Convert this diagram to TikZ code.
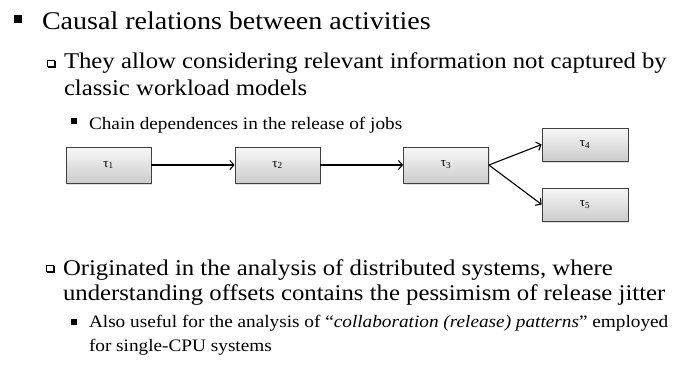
\documentclass[tikz,border=0pt]{standalone}
\usepackage{fontspec}
\setmainfont{Liberation Serif}[FakeStretch=1.1]
\newfontfamily\taskfont{Liberation Serif}
\usetikzlibrary{arrows.meta,shadows}

\tikzset{
  x=1pt, y=-1pt,
  txt/.style={anchor=base west, inner sep=0pt, outer sep=0pt},
  lvlone/.style={txt, font=\fontsize{25.5}{30}\selectfont},
  lvltwo/.style={txt, font=\fontsize{22.5}{26}\selectfont},
  lvlthree/.style={txt, font=\fontsize{17.5}{21}\selectfont},
  bulletfill/.style={fill=black, inner sep=0pt, outer sep=0pt},
  hollowbullet/.style={draw=black, fill=white, line width=0.6pt, inner sep=0pt,
    minimum width=7pt, minimum height=6.5pt},
  task/.style={draw=black!75, line width=0.8pt, minimum width=85pt, minimum height=36pt,
    inner sep=0pt, top color=black!3, bottom color=black!20,
    drop shadow={opacity=0.25, shadow xshift=1pt, shadow yshift=-1.5pt},
    font=\taskfont\fontsize{13}{15}\selectfont},
  link/.style={line width=1.1pt, -{Straight Barb[length=4pt,width=9pt,line width=1.1pt]}},
}

\newcommand{\tsk}[1]{τ\textsubscript{#1}}

\begin{document}
\begin{tikzpicture}
\useasboundingbox (0,0) rectangle (677,367);

% level-one bullet and heading
\node[bulletfill, minimum size=8pt] (b1) at (18,19) {};
\node[lvlone] (t1) at (42,29) {Causal relations between activities};

% hollow level-two bullet (white square over a shifted black one)
\fill[black] (48,61) rectangle (56,68);
\node[hollowbullet] (b2) at (51,63.5) {};
\node[lvltwo] (t2a) at (64,68) {They allow considering relevant information not captured by};
\node[lvltwo] (t2b) at (64,95) {classic workload models};

% level-three bullet
\node[bulletfill, minimum size=6pt] (b3) at (74,121) {};
\node[lvlthree] (t3) at (89,129) {Chain dependences in the release of jobs};

% task chain
\node[task] (k1) at (108.5,165) {\tsk{1}};
\node[task] (k2) at (277.5,165) {\tsk{2}};
\node[task] (k3) at (446,165) {\tsk{3}};
\node[task, minimum width=86pt, minimum height=33pt] (k4) at (585,144.5) {\tsk{4}};
\node[task, minimum width=86pt, minimum height=33pt] (k5) at (585,204.5) {\tsk{5}};

\draw[link] (k1) -- (k2);
\draw[link] (k2) -- (k3);
\draw[link] (k3.east) -- (k4.west);
\draw[link] (k3.east) -- (k5.west);

% second level-two item
\fill[black] (47,266) rectangle (55,273);
\node[hollowbullet] (b4) at (50,268.5) {};
\node[lvltwo] (t4a) at (63,275) {Originated in the analysis of distributed systems, where};
\node[lvltwo] (t4b) at (63,300) {understanding offsets contains the pessimism of release jitter};

% second level-three item
\node[bulletfill, minimum size=6pt] (b5) at (74,321.5) {};
\node[lvlthree] (t5a) at (89,327) {Also useful for the analysis of “\textit{collaboration (release) patterns}” employed};
\node[lvlthree] (t5b) at (89,351) {for single-CPU systems};
\end{tikzpicture}
\end{document}
